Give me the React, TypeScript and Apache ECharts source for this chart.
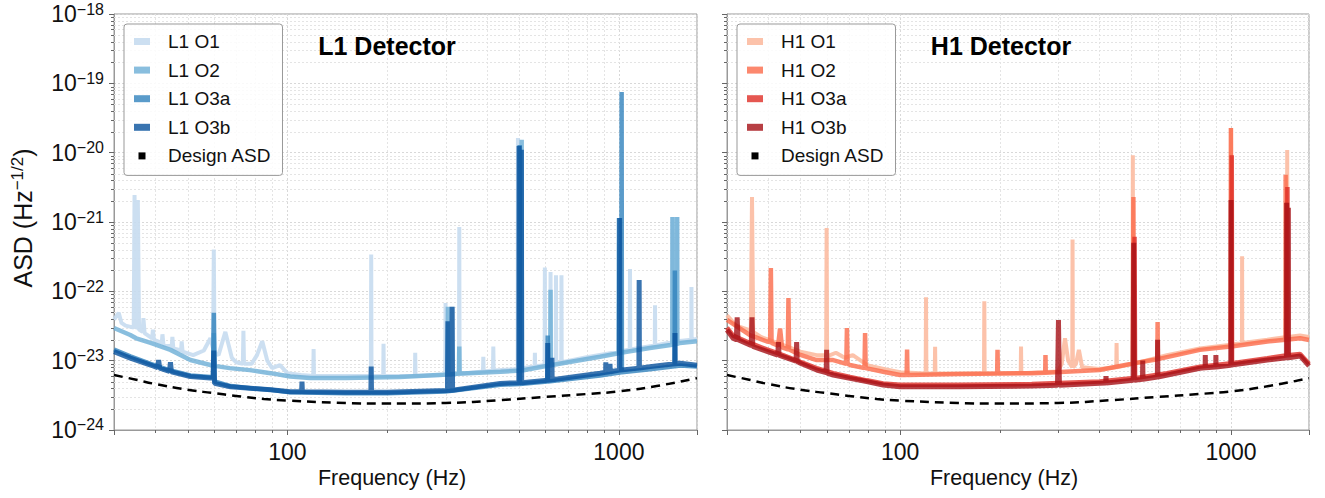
import React, { useEffect, useRef } from 'react';
import * as echarts from 'echarts';

const FONT = '"Liberation Sans", Arial, Helvetica, sans-serif';
type P = [number, number];

// ---------------- L1 detector ----------------
const L1_O1: P[] = [
  [30, 3.9e-23], [31, 4.9e-23], [31.6, 3.5e-23], [32.5, 3.2e-23], [34.4, 3.0e-23], [34.6, 2.45e-21], [34.9, 3.0e-23],
  [35.2, 3.0e-23], [35.4, 2.07e-21], [35.7, 2.8e-23], [36.6, 2.6e-23], [36.8, 4.1e-23], [37.1, 2.5e-23],
  [39.1, 2.1e-23], [39.3, 2.8e-23], [39.6, 2.0e-23], [41.8, 1.8e-23], [42, 2.4e-23], [42.3, 1.7e-23],
  [44.8, 1.6e-23], [45, 2.2e-23], [45.3, 1.5e-23], [47.8, 1.4e-23], [48, 1.9e-23], [48.3, 1.35e-23],
  [52, 1.2e-23], [56, 1.4e-23], [58.6, 2.1e-23], [59.7, 1.5e-23], [60, 4.0e-22], [60.3, 1.3e-23],
  [62, 1.2e-23], [65, 2.6e-23], [68, 1.1e-23], [70, 9.5e-24], [73.4, 9.0e-24], [73.7, 2.7e-23], [74, 9.0e-24],
  [78, 9.0e-24], [81, 1.2e-23], [84, 1.9e-23], [87, 1.0e-23], [90, 7.8e-24], [95, 8.6e-24], [100, 6.6e-24],
  [110, 6.2e-24], [119.7, 6.0e-24], [120, 1.47e-23], [120.3, 6.0e-24], [140, 6.0e-24], [178.6, 6.0e-24],
  [179, 3.4e-22], [179.4, 6.0e-24], [194.6, 6.0e-24], [195, 1.75e-23], [195.4, 6.0e-24], [242.5, 6.0e-24],
  [243, 1.3e-23], [243.5, 6.0e-24], [299.4, 6.2e-24], [300, 6.8e-23], [300.6, 6.2e-24], [314.4, 6.3e-24],
  [315, 6.0e-23], [315.6, 6.3e-24], [329.3, 6.4e-24], [330, 8.5e-22], [330.7, 6.4e-24], [389, 7.0e-24],
  [390, 1.14e-23], [391, 7.0e-24], [417, 7.2e-24], [418, 1.6e-23], [419, 7.2e-24], [480, 7.5e-24],
  [495, 7.6e-24], [496, 1.63e-20], [497, 7.6e-24], [557, 8.3e-24], [558, 1.3e-23], [559, 8.3e-24],
  [597, 8.6e-24], [598, 2.2e-22], [599, 8.6e-24], [621, 8.9e-24], [622, 1.9e-22], [623, 8.9e-24],
  [645, 9.2e-24], [646, 1.7e-22], [647, 9.2e-24], [670, 9.5e-24], [671, 1.7e-22], [672, 9.5e-24],
  [800, 1.12e-23], [998, 1.35e-23], [1000, 5.0e-22], [1002, 1.35e-23], [1078, 1.45e-23], [1080, 2.1e-22],
  [1082, 1.45e-23], [1283, 1.65e-23], [1285, 6.3e-23], [1287, 1.65e-23], [1448, 1.85e-23], [1450, 1.18e-21],
  [1452, 1.85e-23], [1498, 1.9e-23], [1500, 1.18e-21], [1502, 1.9e-23], [1653, 2.0e-23], [1655, 1.15e-22],
  [1657, 2.0e-23], [1720, 2.05e-23],
];
const L1_O2: P[] = [
  [30, 2.96e-23], [33.6, 2.34e-23], [35, 2.1e-23], [38.7, 1.8e-23], [44.4, 1.43e-23], [51, 1.02e-23],
  [58.6, 8.65e-24], [59.7, 8.6e-24], [60, 2.5e-23], [60.3, 8.4e-24], [67, 7.8e-24], [77, 7.3e-24],
  [89, 6.6e-24], [102, 5.9e-24], [117, 5.6e-24], [150, 5.6e-24], [218, 5.8e-24], [304, 6.3e-24],
  [305, 6.0e-23], [306, 6.3e-24], [329.3, 6.5e-24], [330, 1.6e-23], [330.7, 6.5e-24], [350, 6.6e-24],
  [440, 6.9e-24], [508, 7.2e-24], [509, 1.53e-20], [510, 7.2e-24], [621, 8.6e-24], [622, 1.05e-22],
  [623, 8.6e-24], [877, 1.14e-23], [998, 1.28e-23], [1000, 1.14e-21], [1002, 1.29e-23], [1240, 1.52e-23],
  [1449, 1.7e-23], [1451, 1.18e-21], [1453, 1.7e-23], [1496, 1.75e-23], [1498, 1.18e-21], [1500, 1.75e-23],
  [1530, 1.8e-23], [1720, 1.9e-23],
];
const L1_O3A: P[] = [
  [30, 1.45e-23], [33.6, 1.15e-23], [38.7, 9.0e-24], [44.4, 7.2e-24], [51, 6.1e-24], [58.6, 5.8e-24],
  [59.7, 5.8e-24], [60, 4.9e-23], [60.3, 5.0e-24], [67.4, 4.3e-24], [77.4, 4.0e-24], [89, 3.8e-24],
  [102, 3.5e-24], [150, 3.4e-24], [200, 3.4e-24], [300, 3.6e-24], [439, 4.5e-24], [501, 4.6e-24],
  [502, 1.29e-20], [503, 4.6e-24], [609, 5.0e-24], [610, 2.3e-23], [611, 5.0e-24], [877, 6.1e-24],
  [1017, 6.8e-24], [1019, 7.5e-20], [1021, 6.8e-24], [1240, 7.5e-24], [1473, 8.3e-24], [1475, 2.0e-22],
  [1477, 8.3e-24], [1530, 8.5e-24], [1720, 8.2e-24],
];
const L1_O3B: P[] = [
  [30, 1.35e-23], [33.6, 1.09e-23], [38.7, 8.65e-24], [40.6, 7.9e-24], [40.9, 1.02e-23], [41.2, 7.8e-24],
  [44.1, 7.0e-24], [44.4, 9.5e-24], [44.7, 6.9e-24], [51, 5.9e-24], [58.6, 5.6e-24], [59.7, 5.6e-24],
  [60, 1.4e-23], [60.3, 4.7e-24], [67.4, 4.2e-24], [77.4, 4.0e-24], [89, 3.8e-24], [102, 3.57e-24],
  [110.4, 3.55e-24], [110.7, 5.0e-24], [111, 3.55e-24], [150, 3.5e-24], [178.6, 3.5e-24], [179, 8.2e-24],
  [179.4, 3.5e-24], [200, 3.5e-24], [300, 3.7e-24], [304, 3.7e-24], [305, 3.7e-23], [306, 3.7e-24],
  [313, 3.75e-24], [314, 6.0e-23], [315, 3.75e-24], [439, 4.7e-24], [499, 4.8e-24], [500, 1.25e-20],
  [502, 4.8e-24], [507, 4.8e-24], [508, 1.1e-20], [509, 4.8e-24], [609, 5.2e-24], [610, 1.8e-23],
  [611, 5.2e-24], [627, 5.3e-24], [628, 1.1e-23], [629, 5.3e-24], [877, 6.6e-24], [912, 6.8e-24],
  [913, 9.5e-24], [914, 6.8e-24], [938, 6.9e-24], [940, 9.0e-24], [942, 6.9e-24], [1003, 7.3e-24],
  [1005, 1.14e-21], [1007, 7.3e-24], [1149, 7.8e-24], [1151, 1.46e-22], [1153, 7.8e-24], [1240, 8.2e-24],
  [1474, 9.0e-24], [1476, 2.5e-23], [1478, 9.0e-24], [1530, 9.2e-24], [1720, 8.6e-24],
];

// ---------------- H1 detector ----------------
const H1_O1: P[] = [
  [30, 4.5e-23], [32, 3.2e-23], [35.4, 2.7e-23], [35.7, 2.29e-21], [36, 2.6e-23], [38, 2.2e-23],
  [44, 1.7e-23], [50, 1.35e-23], [56, 1.2e-23], [59.8, 1.2e-23], [60, 8.2e-22], [60.2, 1.15e-23],
  [64, 1.3e-23], [68, 1.1e-23], [72, 1.2e-23], [80, 8.5e-24], [90, 7.5e-24], [100, 6.8e-24],
  [119.5, 6.5e-24], [119.8, 8.2e-23], [120.1, 6.5e-24], [127.3, 6.5e-24], [127.6, 1.58e-23], [127.9, 6.5e-24],
  [179.3, 6.5e-24], [179.7, 7.2e-23], [180.1, 6.5e-24], [231.5, 6.6e-24], [232, 1.6e-23], [232.5, 6.6e-24],
  [300, 7.0e-24], [308, 9.0e-24], [315, 2.1e-23], [322, 1.0e-23], [331.3, 8.0e-24], [332, 5.6e-22],
  [332.7, 8.0e-24], [340, 9.0e-24], [347, 1.43e-23], [355, 8.0e-24], [400, 7.6e-24], [450, 8.0e-24],
  [451, 1.8e-23], [452, 8.0e-24], [504, 9.0e-24], [505, 9.2e-21], [506, 9.0e-24], [640, 1.2e-23],
  [805, 1.5e-23], [999, 1.7e-23], [1000, 2.27e-20], [1002, 1.7e-23], [1079, 1.8e-23], [1080, 3.2e-22],
  [1081, 1.8e-23], [1287, 2.0e-23], [1475, 2.2e-23], [1478, 1.09e-20], [1481, 2.2e-23], [1617, 2.3e-23],
  [1720, 2.2e-23],
];
const H1_O2: P[] = [
  [30, 3.86e-23], [35.2, 2.34e-23], [39.6, 1.89e-23], [40.5, 1.85e-23], [40.7, 2.17e-22], [40.9, 1.8e-23],
  [42.8, 1.65e-23], [43.4, 2.9e-23], [44, 1.55e-23], [45.8, 1.45e-23], [46, 8.0e-23], [46.2, 1.45e-23],
  [50, 1.21e-23], [56, 1.02e-23], [62.8, 1.02e-23], [68.8, 9.0e-24], [69.1, 2.96e-23], [69.4, 9.0e-24],
  [70.6, 8.65e-24], [78.1, 7.8e-24], [78.4, 2.5e-23], [78.7, 7.8e-24], [88.9, 6.93e-24], [100, 6.21e-24],
  [104.7, 6.2e-24], [105, 1.45e-23], [105.3, 6.2e-24], [150, 6.4e-24], [196.5, 6.5e-24], [197, 1.43e-23],
  [197.5, 6.5e-24], [250, 6.6e-24], [274.5, 6.7e-24], [275, 1.2e-23], [275.5, 6.7e-24], [401, 7.33e-24],
  [505, 9.1e-24], [507, 2.3e-21], [509, 9.2e-24], [599, 1.05e-23], [600, 3.6e-23], [601, 1.05e-23],
  [805, 1.43e-23], [997, 1.6e-23], [999, 2.27e-20], [1001, 1.6e-23], [1287, 1.89e-23], [1460, 2.0e-23],
  [1462, 4.8e-21], [1464, 2.0e-23], [1617, 2.1e-23], [1720, 1.99e-23],
];
const H1_O3A: P[] = [
  [30, 3.0e-23], [31.3, 2.3e-23], [35.2, 1.8e-23], [39.6, 1.45e-23], [44.3, 1.2e-23], [50, 9.6e-24],
  [56, 7.8e-24], [62.8, 6.6e-24], [70.6, 5.8e-24], [79.3, 5.2e-24], [88.9, 4.7e-24], [100, 4.5e-24],
  [150, 4.5e-24], [250, 4.6e-24], [401, 5.0e-24], [509, 5.6e-24], [511, 6.1e-22], [513, 5.6e-24],
  [640, 6.6e-24], [805, 8.2e-24], [1003, 9.2e-24], [1005, 9.2e-21], [1007, 9.2e-24], [1287, 1.08e-23],
  [1478, 1.2e-23], [1480, 3.2e-21], [1482, 1.2e-23], [1617, 1.25e-23], [1720, 9.0e-24],
];
const H1_O3B: P[] = [
  [30, 2.77e-23], [31.3, 2.1e-23], [32, 2.0e-23], [32.2, 4.2e-23], [32.4, 2.0e-23], [35.2, 1.68e-23],
  [35.5, 1.65e-23], [35.7, 4.2e-23], [35.9, 1.6e-23], [39.6, 1.36e-23], [42.7, 1.2e-23], [42.9, 1.85e-23],
  [43.1, 1.2e-23], [44.3, 1.14e-23], [48.5, 9.8e-24], [48.7, 1.85e-23], [48.9, 9.7e-24], [50, 9.16e-24],
  [56, 7.33e-24], [59.8, 6.7e-24], [60, 1.43e-23], [60.2, 6.6e-24], [62.8, 6.21e-24], [70.6, 5.55e-24],
  [79.3, 4.99e-24], [88.9, 4.46e-24], [100, 4.2e-24], [150, 4.2e-24], [250, 4.3e-24], [299, 4.4e-24],
  [301, 3.86e-23], [303, 4.4e-24], [401, 4.71e-24], [418, 4.75e-24], [419, 6.0e-24], [420, 4.75e-24],
  [506, 5.2e-24], [508, 5.0e-22], [510, 5.2e-24],
  [540, 5.4e-24], [541, 1.0e-23], [542, 5.4e-24], [599, 5.8e-24], [600, 2.0e-23], [601, 5.8e-24],
  [805, 7.76e-24], [835, 7.9e-24], [836, 1.2e-23], [837, 7.9e-24], [899, 8.1e-24], [900, 1.2e-23],
  [901, 8.1e-24], [998, 8.6e-24], [1000, 2.07e-21], [1002, 8.65e-24], [1287, 1.02e-23], [1470, 1.1e-23],
  [1472, 1.9e-21], [1474, 1.1e-23], [1488, 1.1e-23], [1490, 1.6e-21], [1492, 1.1e-23], [1617, 1.17e-23],
  [1720, 8.4e-24],
];

const DESIGN: P[] = [
  [30, 6.2e-24], [35, 5.3e-24], [40, 4.6e-24], [50, 3.8e-24], [60, 3.4e-24], [70, 3.1e-24], [85, 2.8e-24],
  [100, 2.65e-24], [150, 2.45e-24], [200, 2.4e-24], [300, 2.45e-24], [440, 2.7e-24], [600, 3.0e-24],
  [800, 3.3e-24], [1000, 3.6e-24], [1300, 4.3e-24], [1720, 5.6e-24],
];

const X_MIN = 30;
const X_MAX = 1720;
const Y_MIN = 9.99e-25;
const Y_MAX = 1.001e-18;
const X_MINOR = [40, 50, 60, 70, 80, 90, 200, 300, 400, 500, 600, 700, 800, 900];
const Y_DECADES = [1e-24, 1e-23, 1e-22, 1e-21, 1e-20, 1e-19];
const Y_MANTISSAS = [2, 3, 4, 5, 6, 7, 8, 9];

const L1_NAMES = ['L1 O1', 'L1 O2', 'L1 O3a', 'L1 O3b'];
const H1_NAMES = ['H1 O1', 'H1 O2', 'H1 O3a', 'H1 O3b'];
const L1_COLORS = ['rgba(198,219,239,0.9)', 'rgba(107,174,214,0.8)', 'rgba(49,130,189,0.8)', 'rgba(8,81,156,0.8)'];
const H1_COLORS = ['rgba(252,187,161,0.9)', 'rgba(251,106,74,0.8)', 'rgba(222,45,38,0.8)', 'rgba(165,15,21,0.8)'];
const DESIGN_NAME = 'Design ASD';

const GRIDS = [
  { left: 114, top: 14, width: 583, height: 416 },
  { left: 727, top: 14, width: 582, height: 416 },
];

function minorSeries(idx: number) {
  const data: number[][] = [];
  X_MINOR.forEach((f) => data.push([f, 1e-21, 0]));
  Y_DECADES.forEach((d) => Y_MANTISSAS.forEach((m) => data.push([100, m * d, 1])));
  return {
    type: 'custom',
    xAxisIndex: idx,
    yAxisIndex: idx,
    silent: true,
    clip: false,
    z: 1,
    encode: { x: 0, y: 1 },
    data,
    renderItem: (params: any, api: any) => {
      const cs = params.coordSys;
      const kind = api.value(2);
      const p = api.coord([api.value(0), api.value(1)]);
      if (kind === 0) {
        const x = Math.round(p[0]) + 0.5;
        return {
          type: 'group',
          children: [
            { type: 'line', shape: { x1: x, y1: cs.y, x2: x, y2: cs.y + cs.height }, style: { stroke: '#e4e4e4', lineWidth: 1, lineDash: [2, 2] } },
            { type: 'line', shape: { x1: x, y1: cs.y + cs.height, x2: x, y2: cs.y + cs.height + 3 }, style: { stroke: '#666', lineWidth: 1 } },
          ],
        };
      }
      const y = Math.round(p[1]) + 0.5;
      return {
        type: 'group',
        children: [
          { type: 'line', shape: { x1: cs.x, y1: y, x2: cs.x + cs.width, y2: y }, style: { stroke: '#e4e4e4', lineWidth: 1, lineDash: [2, 2] } },
          { type: 'line', shape: { x1: cs.x - 3, y1: y, x2: cs.x, y2: y }, style: { stroke: '#666', lineWidth: 1 } },
        ],
      };
    },
  };
}

function lineSeries(name: string, data: P[], color: string, idx: number, z: number, width: number) {
  return {
    type: 'line',
    name,
    data,
    xAxisIndex: idx,
    yAxisIndex: idx,
    showSymbol: false,
    symbol: 'none',
    color,
    z,
    lineStyle: { color, width, join: 'bevel' },
  };
}

function designSeries(idx: number) {
  return {
    type: 'line',
    name: DESIGN_NAME,
    data: DESIGN,
    xAxisIndex: idx,
    yAxisIndex: idx,
    showSymbol: false,
    symbol: 'none',
    smooth: true,
    color: '#000',
    z: 10,
    lineStyle: { color: '#000', width: 2.5, type: [9, 6] },
  };
}

const isDecade = (v: number) => {
  const l = Math.log10(v);
  return Math.abs(l - Math.round(l)) < 1e-6;
};

function legendFor(names: string[], left: number) {
  return {
    orient: 'vertical',
    left,
    top: 24,
    itemWidth: 16,
    itemHeight: 7,
    itemGap: 9.6,
    padding: [8, 11, 10, 10],
    borderColor: '#999',
    borderWidth: 1,
    borderRadius: 3,
    backgroundColor: 'rgba(255,255,255,0.85)',
    selectedMode: false,
    textStyle: { fontSize: 19, fontFamily: FONT, color: '#111', padding: [0, 0, 0, 13] },
    data: [
      ...names.map((n) => ({ name: n, icon: 'rect' })),
      { name: DESIGN_NAME, icon: 'path://M0,0L10,0L10,10L0,10Z' },
    ],
  };
}

export default function App() {
  const ref = useRef<HTMLDivElement>(null);
  useEffect(() => {
    if (!ref.current) return;
    const chart = echarts.init(ref.current, null, { renderer: 'svg' });
    const xAxes = [0, 1].map((i) => ({
      type: 'log',
      logBase: 10,
      gridIndex: i,
      min: X_MIN,
      max: X_MAX,
      axisLine: { show: true, lineStyle: { color: '#999' } },
      axisTick: { show: true, length: 5, lineStyle: { color: '#666' } },
      axisLabel: {
        fontSize: 23,
        fontFamily: FONT,
        color: '#111',
        margin: 10,
        formatter: (v: number) => (isDecade(v) ? String(Math.round(v)) : ''),
      },
      splitLine: { show: true, lineStyle: { color: '#d8d8d8', type: [2, 2] } },
    }));
    const yAxes = [0, 1].map((i) => ({
      type: 'log',
      logBase: 10,
      gridIndex: i,
      min: Y_MIN,
      max: Y_MAX,
      axisLine: { show: true, lineStyle: { color: '#999' } },
      axisTick: { show: true, length: 5, lineStyle: { color: '#666' } },
      axisLabel: {
        show: i === 0,
        showMinLabel: true,
        showMaxLabel: true,
        hideOverlap: false,
        margin: 10,
        fontSize: 23,
        fontFamily: FONT,
        color: '#111',
        formatter: (v: number) => {
          if (!isDecade(v)) return '';
          const e = Math.round(Math.log10(v));
          return '{b|10}{s|\u2212' + Math.abs(e) + '}';
        },
        rich: {
          b: { fontSize: 23, fontFamily: FONT, color: '#111' },
          s: { fontSize: 16, fontFamily: FONT, color: '#111', padding: [0, 0, 10, 0] },
        },
      },
      splitLine: { show: true, lineStyle: { color: '#d8d8d8', type: [2, 2] } },
    }));

    const series: any[] = [minorSeries(0), minorSeries(1)];
    const l1Data = [L1_O1, L1_O2, L1_O3A, L1_O3B];
    const h1Data = [H1_O1, H1_O2, H1_O3A, H1_O3B];
    const widths = [4, 4.5, 4.5, 5];
    L1_NAMES.forEach((n, k) => series.push(lineSeries(n, l1Data[k], L1_COLORS[k], 0, 3 + k, widths[k])));
    H1_NAMES.forEach((n, k) => series.push(lineSeries(n, h1Data[k], H1_COLORS[k], 1, 3 + k, widths[k])));
    series.push(designSeries(0), designSeries(1));

    const option: any = {
      animation: false,
      backgroundColor: '#fff',
      grid: GRIDS.map((g) => ({ ...g, show: true, borderColor: '#999', borderWidth: 1, backgroundColor: 'transparent', containLabel: false, outerBoundsMode: 'none' })),
      xAxis: xAxes,
      yAxis: yAxes,
      legend: [legendFor(L1_NAMES, 124), legendFor(H1_NAMES, 737)],
      series,
      graphic: [
        { type: 'text', x: 387, y: 46, z: 100, style: { text: 'L1 Detector', fontSize: 25, fontWeight: 'bold', fontFamily: FONT, fill: '#000', align: 'center', verticalAlign: 'middle', textAlign: 'center', textVerticalAlign: 'middle' } },
        { type: 'text', x: 1001, y: 46, z: 100, style: { text: 'H1 Detector', fontSize: 25, fontWeight: 'bold', fontFamily: FONT, fill: '#000', align: 'center', verticalAlign: 'middle', textAlign: 'center', textVerticalAlign: 'middle' } },
        { type: 'text', x: 392, y: 478, style: { text: 'Frequency (Hz)', fontSize: 21.5, fontFamily: FONT, fill: '#111', align: 'center', verticalAlign: 'middle', textAlign: 'center', textVerticalAlign: 'middle' } },
        { type: 'text', x: 1004, y: 478, style: { text: 'Frequency (Hz)', fontSize: 21.5, fontFamily: FONT, fill: '#111', align: 'center', verticalAlign: 'middle', textAlign: 'center', textVerticalAlign: 'middle' } },
        {
          type: 'text', x: 22, y: 218, rotation: Math.PI / 2,
          style: {
            text: '{a|ASD (Hz}{s|\u22121/2}{a|)}',
            align: 'center', verticalAlign: 'middle', textAlign: 'center', textVerticalAlign: 'middle',
            rich: {
              a: { fontSize: 25, fontFamily: FONT, fill: '#111', color: '#111', verticalAlign: 'bottom', lineHeight: 27 },
              s: { fontSize: 17, fontFamily: FONT, fill: '#111', color: '#111', verticalAlign: 'top', lineHeight: 17, padding: [0, 0, 10, 0] },
            },
          },
        },
      ],
    };
    chart.setOption(option);
    return () => chart.dispose();
  }, []);
  return <div ref={ref} style={{ position: 'absolute', left: 0, top: 0, width: 1325, height: 498 }} />;
}
